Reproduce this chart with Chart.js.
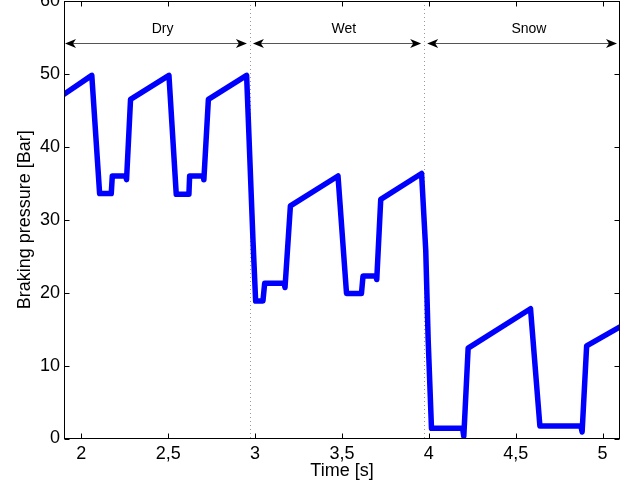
<!DOCTYPE html>
<html>
<head>
<meta charset="utf-8">
<script src="https://cdn.jsdelivr.net/npm/chart.js@4/dist/chart.umd.min.js"></script>
<style>
  html, body { margin: 0; padding: 0; background: #fff; }
  canvas { display: block; }
</style>
</head>
<body>
<canvas id="chart" width="639" height="488"></canvas>
<script>
// ── data ───────────────────────────────────────────────
const TIME = [
  1.9, 2.06, 2.105, 2.172, 2.178, 2.255, 2.26, 2.283, 2.504, 2.546,
  2.619, 2.623, 2.700, 2.705, 2.731, 2.951, 2.988, 3.003, 3.045, 3.055,
  3.167, 3.172, 3.203, 3.477, 3.526, 3.612, 3.621, 3.695, 3.700, 3.723,
  3.958, 3.982, 3.996, 4.015, 4.194, 4.201, 4.226, 4.585, 4.639, 4.875,
  4.882, 4.908, 5.1,
];
const PRESSURE = [
  47.2, 49.8, 33.6, 33.6, 36.0, 36.0, 35.5, 46.5, 49.8, 33.5,
  33.5, 36.0, 36.0, 35.5, 46.5, 49.8, 27.0, 18.85, 18.85, 21.3,
  21.3, 20.7, 31.9, 36.0, 19.9, 19.9, 22.3, 22.3, 21.8, 32.8,
  36.35, 25.8, 13.5, 1.4, 1.4, 0.3, 12.4, 17.8, 1.7, 1.7,
  0.9, 12.7, 15.3,
];

const X_TICKS = [2, 2.5, 3, 3.5, 4, 4.5, 5];
const Y_TICKS = [0, 10, 20, 30, 40, 50, 60];

// road surface zones
const ZONE_BOUNDS = [2.97, 3.973];          // dotted separators
const ZONE_RANGES = [[1.9, 2.97], [2.97, 3.973], [3.973, 5.1]];
const ZONE_NAMES  = ['Dry', 'Wet', 'Snow'];
const ZONE_LABEL_X = [2.467, 3.51, 4.576];
const ARROW_Y = 54.2;

const FONT = '"Liberation Sans", Arial, Helvetica, sans-serif';

// ── helpers ────────────────────────────────────────────
function arrowHead(ctx, x, y, dir) {
  // matlab style notched head, dir = +1 points right, -1 left
  const L = 11, W = 4.5, N = 3;
  ctx.beginPath();
  ctx.moveTo(x, y);
  ctx.lineTo(x - dir * L, y - W);
  ctx.lineTo(x - dir * (L - N), y);
  ctx.lineTo(x - dir * L, y + W);
  ctx.closePath();
  ctx.fill();
}

const decorPlugin = {
  id: 'decor',
  beforeDatasetsDraw(chart) {
    const { ctx, chartArea: a, scales: { x } } = chart;
    ctx.save();
    ctx.strokeStyle = '#999';
    ctx.lineWidth = 1;
    ctx.setLineDash([1, 3]);
    ZONE_BOUNDS.forEach(v => {
      const px = Math.round(x.getPixelForValue(v)) + 0.5;
      ctx.beginPath();
      ctx.moveTo(px, a.top);
      ctx.lineTo(px, a.bottom);
      ctx.stroke();
    });
    ctx.restore();
  },
  afterDraw(chart) {
    const { ctx, chartArea: a, scales: { x, y } } = chart;
    const L = Math.round(a.left) + 0.5, R = Math.round(a.right) - 0.5;
    const T = Math.round(a.top) + 0.5, B = Math.round(a.bottom) - 0.5;
    ctx.save();

    // box
    ctx.strokeStyle = '#000';
    ctx.lineWidth = 1;
    ctx.strokeRect(L, T, R - L, B - T);

    // inward ticks on all four sides
    const TL = 5;
    ctx.beginPath();
    X_TICKS.forEach(v => {
      const px = Math.round(x.getPixelForValue(v)) + 0.5;
      ctx.moveTo(px, B); ctx.lineTo(px, B - TL);
      ctx.moveTo(px, T); ctx.lineTo(px, T + TL);
    });
    Y_TICKS.forEach(v => {
      const py = Math.round(y.getPixelForValue(v)) + 0.5;
      ctx.moveTo(L, py); ctx.lineTo(L + TL, py);
      ctx.moveTo(R, py); ctx.lineTo(R - TL, py);
    });
    ctx.stroke();

    // zone arrows
    const ay = Math.round(y.getPixelForValue(ARROW_Y)) + 0.5;
    ZONE_RANGES.forEach(([x0, x1], i) => {
      const p0 = x.getPixelForValue(x0) + (i === 0 ? 1 : 3);
      const p1 = x.getPixelForValue(x1) - 3;
      ctx.strokeStyle = '#555';
      ctx.lineWidth = 1;
      ctx.beginPath();
      ctx.moveTo(p0 + 4, ay);
      ctx.lineTo(p1 - 4, ay);
      ctx.stroke();
      ctx.fillStyle = '#000';
      arrowHead(ctx, p0, ay, -1);
      arrowHead(ctx, p1, ay, 1);
    });

    ctx.fillStyle = '#000';
    ctx.font = '14px ' + FONT;
    ctx.textAlign = 'center';
    ctx.textBaseline = 'middle';
    ZONE_NAMES.forEach((name, i) => {
      ctx.fillText(name, x.getPixelForValue(ZONE_LABEL_X[i]), 29);
    });
    ctx.restore();
  },
};

// ── chart ──────────────────────────────────────────────
new Chart(document.getElementById('chart'), {
  type: 'line',
  data: {
    datasets: [{
      data: TIME.map((t, i) => ({ x: t, y: PRESSURE[i] })),
      borderColor: '#0000ff',
      borderWidth: 5.5,
      pointRadius: 0,
      tension: 0,
      borderJoinStyle: 'round',
      borderCapStyle: 'round',
    }],
  },
  options: {
    responsive: false,
    animation: false,
    events: [],
    layout: { padding: { top: 1, right: 19, left: 0, bottom: 0 } },
    plugins: { legend: { display: false }, tooltip: { enabled: false } },
    scales: {
      x: {
        type: 'linear',
        min: 1.9, max: 5.1,
        grid: { display: false, drawTicks: false },
        border: { display: false },
        afterBuildTicks: s => { s.ticks = X_TICKS.map(v => ({ value: v })); },
        afterFit: s => { s.height = 49.5; s.paddingLeft = 0; s.paddingRight = 0; },
        ticks: {
          color: '#000',
          padding: 5,
          maxRotation: 0,
          autoSkip: false,
          font: { family: FONT, size: 18 },
          callback: v => String(v).replace('.', ','),
        },
        title: {
          display: true,
          text: 'Time [s]',
          color: '#000',
          font: { family: FONT, size: 18 },
          padding: { top: 0, bottom: 6 },
        },
      },
      y: {
        min: 0, max: 60,
        grid: { display: false, drawTicks: false },
        border: { display: false },
        afterBuildTicks: s => { s.ticks = Y_TICKS.map(v => ({ value: v })); },
        afterFit: s => { s.width = 64; s.paddingTop = 0; s.paddingBottom = 0; },
        ticks: {
          color: '#000',
          padding: 4,
          font: { family: FONT, size: 18 },
        },
        title: {
          display: true,
          text: 'Braking pressure [Bar]',
          color: '#000',
          font: { family: FONT, size: 18 },
          padding: { top: 14, bottom: 0 },
        },
      },
    },
  },
  plugins: [decorPlugin],
});
</script>
</body>
</html>
